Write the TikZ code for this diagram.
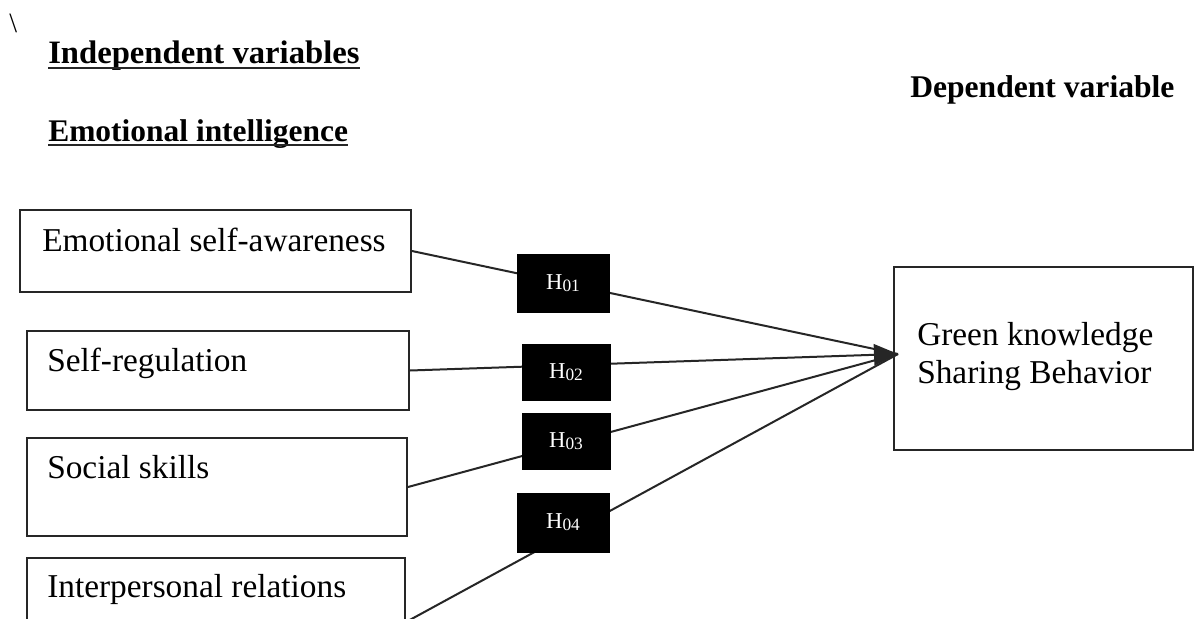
\documentclass[tikz,border=0pt]{standalone}
\usepackage{fontspec}
\setmainfont{Liberation Serif}
\usetikzlibrary{arrows.meta,calc}
\newcommand\hlab[1]{H\raisebox{-1.5pt}{\fontsize{13}{13}\selectfont #1}}
\begin{document}
\begin{tikzpicture}[x=0.75pt,y=-0.75pt,
  varbox/.style={draw=black!85, line width=1.5pt, inner sep=0pt},
  boxtext/.style={anchor=base west, inner sep=0pt, font=\fontsize{25}{30}\selectfont},
  headtext/.style={anchor=base west, inner sep=0pt, font=\fontsize{24.5}{29}\selectfont\bfseries},
  hbox/.style={fill=black, draw=black, inner sep=0pt, text=white, font=\fontsize{17}{20}\selectfont},
  conn/.style={draw=black!85, line width=1.5pt},
  uline/.style={line width=1.5pt, draw=black!85}]
\useasboundingbox (0,0) rectangle (1199,618);
\fill[white] (0,0) rectangle (1199,618);
\clip (0,0) rectangle (1199,618);

% stray backslash
\node[anchor=base west, inner sep=0pt, font=\fontsize{21}{24}\selectfont] (bs) at (9,32) {\textbackslash};

% headings
\node[headtext] (h1) at (48,63) {Independent variables};
\draw[uline] ($(h1.base west)+(0,5)$) -- ($(h1.base east)+(0,5)$);
\node[headtext, font=\fontsize{23.6}{29}\selectfont\bfseries] (h2) at (48,141) {Emotional intelligence};
\draw[uline] ($(h2.base west)+(0,4)$) -- ($(h2.base east)+(0,4)$);
\node[headtext, font=\fontsize{23.7}{29}\selectfont\bfseries] (h3) at (910,97) {Dependent variable};

% left boxes
\node[varbox, minimum width=293.25pt, minimum height=61.5pt] (b1) at (215.5,251) {};
\node[varbox, minimum width=286.5pt, minimum height=59.25pt] (b2) at (218,370.5) {};
\node[varbox, minimum width=285pt, minimum height=73.5pt] (b3) at (217,487) {};
\node[varbox, minimum width=283.5pt, minimum height=96pt] (b4) at (216,622) {};
\node[boxtext] (t1) at (42,251) {Emotional self-awareness};
\node[boxtext] (t2) at (47,371) {Self-regulation};
\node[boxtext] (t3) at (47,478) {Social skills};
\node[boxtext] (t4) at (47,597) {Interpersonal relations};

% right box
\node[varbox, minimum width=224.25pt, minimum height=137.25pt] (R) at (1043.5,358.5) {};
\node[boxtext] (r1) at (917,345) {Green knowledge};
\node[boxtext] (r2) at (917,383) {Sharing Behavior};

% connectors
\coordinate (T) at (898,354);
\draw[conn] (b1.east) -- (T);
\draw[conn] (b3.east) -- (T);
\draw[conn] (b4.east) -- (T);
\draw[conn, -{Triangle[length=18pt,width=16pt]}] (b2.east) -- (T);

% hypothesis labels
\node[hbox, minimum width=69pt, minimum height=43.5pt] (H1) at (563,283) {\hlab{01}};
\node[hbox, minimum width=66pt, minimum height=42pt] (H2) at (566,372) {\hlab{02}};
\node[hbox, minimum width=66pt, minimum height=42pt] (H3) at (566,441) {\hlab{03}};
\node[hbox, minimum width=69pt, minimum height=44pt] (H4) at (563,522.5) {\hlab{04}};
\end{tikzpicture}
\end{document}
